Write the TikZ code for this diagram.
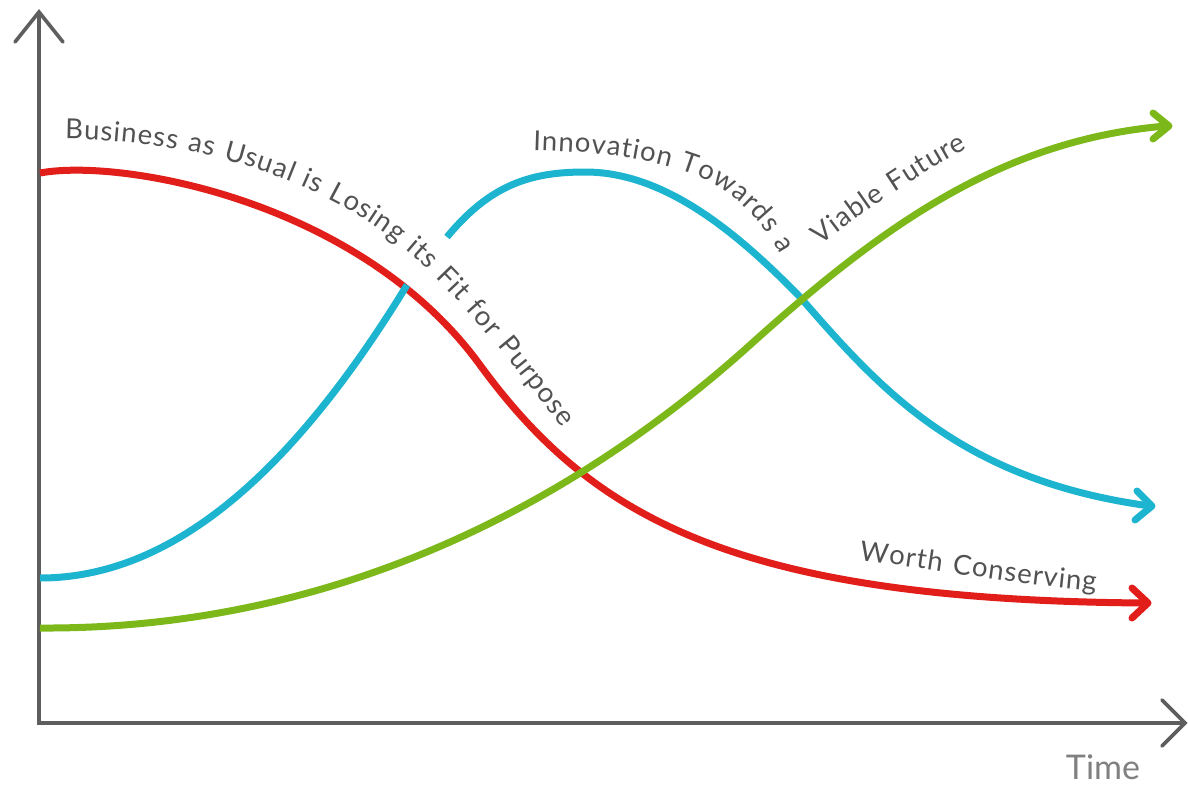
\documentclass[tikz,border=0pt]{standalone}
\usepackage{fontspec}
\setmainfont{Lato}
\newfontfamily\lblfam[WordSpace=1.2]{Lato}
\usetikzlibrary{decorations.text}
\definecolor{axisgray}{HTML}{5E5E5E}
\definecolor{lblgray}{HTML}{525252}
\definecolor{timegray}{HTML}{808080}
\definecolor{cred}{HTML}{E11E1A}
\definecolor{ccyan}{HTML}{1DB4D0}
\definecolor{cgreen}{HTML}{7DB81A}
\newcommand\lblfont{\lblfam\fontsize{27.5}{30}\selectfont\color{lblgray}\kern1pt}
\tikzset{
  axisline/.style={draw=axisgray, line width=3.6pt, line cap=butt},
  axishead/.style={draw=axisgray, line width=3.6pt, line cap=round, line join=miter},
  curve/.style={line width=7pt, line cap=butt},
  chevron/.style={line width=7pt, line cap=round, line join=round},
  curvelabel/.style={decorate, decoration={text along path, text align=left, text={|\lblfont|#1}}}
}
\begin{document}
\begin{tikzpicture}[x=1pt,y=-1pt]
\useasboundingbox (0,0) rectangle (1188,785);
% axes
\coordinate (O) at (39,723);
\coordinate (Ytip) at (39,12);
\coordinate (Xtip) at (1185,723);
\draw[axisline] (O) -- (Ytip);
\draw[axisline] (37.2,723) -- (Xtip);
\draw[axishead] (15,42) -- (Ytip) -- (63,42);
\draw[axishead] (1162,700) -- (Xtip) -- (1162,746);
\node[font=\fontsize{34}{36}\selectfont, text=timegray, anchor=base] (time) at (1103,779) {Time};

% red curve
\coordinate (r0) at (40,173);
\coordinate (r1) at (480,365);
\coordinate (r2) at (1145,603);
\draw[curve, cred] (r0) .. controls (120,158) and (360,200) .. (r1)
                       .. controls (590,515) and (730,600) .. (r2);
\draw[chevron, cred] (1132,588) -- (1148,603) -- (1132,618);

% cyan curve
\coordinate (c0) at (40,578);
\coordinate (c1) at (407,285);
\coordinate (c2) at (447,237);
\coordinate (c3) at (585,172);
\coordinate (c4) at (800,297);
\coordinate (c5) at (1150,506);
\draw[curve, ccyan] (c0) .. controls (180,578) and (300,460) .. (c1);
\draw[curve, ccyan] (c2) .. controls (490,185) and (530,172) .. (c3)
                        .. controls (660,172) and (730,225) .. (c4)
                        .. controls (880,389) and (960,480) .. (c5);
\draw[chevron, ccyan] (1137,491) -- (1152,506) -- (1135,520);

% green curve
\coordinate (g0) at (40,628);
\coordinate (g1) at (750,345);
\coordinate (g2) at (1166,126);
\draw[curve, cgreen] (g0) .. controls (380,630) and (620,462) .. (g1)
                          .. controls (880,228) and (1000,140) .. (g2);
\draw[chevron, cgreen] (1153,113) -- (1169,126) -- (1153,139);

% labels along curves
\path[curvelabel={Business as Usual is Losing its Fit for Purpose}]
  (64,139) .. controls (200,140) and (340,180) .. (432,274)
           .. controls (482,324) and (537,393) .. (607,488) -- (650,550);
\path[curvelabel={Innovation Towards a}]
  (532,150) .. controls (600,152) and (640,158) .. (680,170)
            .. controls (720,182) and (750,205) .. (775,245) -- (805,295);
\path[curvelabel={Viable Future}]
  (820,246) .. controls (860,214) and (920,172) .. (980,142) -- (1040,115);
\path[curvelabel={Worth Conserving}]
  (858,560) .. controls (930,568) and (1030,588) .. (1115,592) -- (1160,594);
\end{tikzpicture}
\end{document}
